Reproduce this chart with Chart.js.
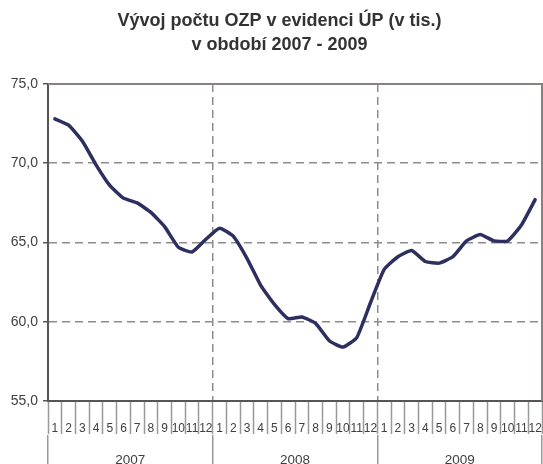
<!DOCTYPE html>
<html>
<head>
<meta charset="utf-8">
<script src="https://cdn.jsdelivr.net/npm/chart.js@4.4.0/dist/chart.umd.min.js"></script>
<style>
html,body{margin:0;padding:0;background:#fff;}
#wrap{width:543px;height:464px;position:relative;}
</style>
</head>
<body>
<div id="wrap"><canvas id="c" width="543" height="464"></canvas></div>
<script>
const titleLines = ['Vývoj počtu OZP v evidenci ÚP (v tis.)', 'v období 2007 - 2009'];
const years = ['2007', '2008', '2009'];
const months = ['1','2','3','4','5','6','7','8','9','10','11','12'];
const values2007 = [72.8, 72.4, 71.4, 69.9, 68.6, 67.8, 67.5, 66.9, 66.0, 64.7, 64.4, 65.2];
const values2008 = [65.9, 65.4, 64.0, 62.3, 61.1, 60.2, 60.3, 59.9, 58.8, 58.4, 59.0, 61.2];
const values2009 = [63.3, 64.1, 64.5, 63.8, 63.7, 64.1, 65.1, 65.5, 65.1, 65.1, 66.1, 67.7];
const yMin = 55, yMax = 75, yStep = 5;

const monthLabels = [].concat(months, months, months);
const series = [].concat(values2007, values2008, values2009);

const frame = {
  id: 'frame',
  afterLayout(chart) {
    // shift the title block slightly right, as in the original
    if (chart.titleBlock) { chart.titleBlock.left = 17; }
  },
  afterDatasetsDraw(chart) {
    const a = chart.chartArea, ctx = chart.ctx;
    ctx.save();
    ctx.strokeStyle = '#8a8080';
    ctx.lineWidth = 2;
    ctx.beginPath();
    ctx.moveTo(a.left, a.top);
    ctx.lineTo(a.right, a.top);
    ctx.lineTo(a.right, a.bottom);
    ctx.stroke();
    ctx.restore();
  }
};

const FONT = 'Liberation Sans, Arial, sans-serif';

new Chart(document.getElementById('c'), {
  type: 'line',
  data: {
    labels: monthLabels,
    datasets: [{
      data: series,
      borderColor: '#2d2f60',
      borderWidth: 3.5,
      pointRadius: 0,
      tension: 0.15,
      borderJoinStyle: 'round',
      borderCapStyle: 'round',
      fill: false
    }]
  },
  options: {
    responsive: false,
    animation: false,
    layout: { padding: { left: 0, right: 1, top: 0, bottom: 0 } },
    plugins: {
      legend: { display: false },
      tooltip: { enabled: false },
      title: {
        display: true,
        text: titleLines,
        color: '#333333',
        font: { family: FONT, size: 18, weight: 'bold', lineHeight: 1.333 },
        padding: { top: 9, bottom: 27 }
      }
    },
    scales: {
      y: {
        min: yMin, max: yMax,
        ticks: {
          stepSize: yStep,
          color: '#404040',
          font: { family: FONT, size: 14 },
          padding: 5,
          callback: v => v.toFixed(1).replace('.', ',')
        },
        grid: {
          color: ctx => (ctx.tick && (ctx.tick.value === yMin || ctx.tick.value === yMax)) ? 'rgba(0,0,0,0)' : '#8c8c8c',
          lineWidth: 1.5,
          tickLength: 5,
          tickColor: '#5a5555',
          tickWidth: 1.5
        },
        border: { display: true, color: '#5a5555', width: 2, dash: [8, 5] },
        afterFit: s => { s.width = 48; }
      },
      x: {
        type: 'category',
        offset: true,
        position: 'bottom',
        ticks: {
          autoSkip: false, maxRotation: 0, minRotation: 0,
          color: '#404040',
          font: { family: FONT, size: 12 },
          padding: -13
        },
        grid: {
          offset: true,
          drawOnChartArea: false,
          tickLength: 33,
          tickColor: '#999999',
          tickWidth: 1.5
        },
        border: { display: true, color: '#5a5555', width: 2 },
        afterFit: s => { s.height = 34; }
      },
      x2: {
        type: 'category',
        labels: years,
        offset: true,
        position: 'bottom',
        ticks: {
          color: '#404040',
          font: { family: FONT, size: 13.5 },
          padding: -14,
          maxRotation: 0
        },
        grid: {
          offset: true,
          drawOnChartArea: true,
          color: ctx => (ctx.index === 0 || ctx.index === years.length) ? 'rgba(0,0,0,0)' : '#8c8c8c',
          lineWidth: 1.5,
          tickLength: 31,
          tickColor: '#999999',
          tickWidth: 1.5
        },
        border: { display: false, dash: [8, 5] },
        afterFit: s => { s.height = 29; }
      }
    }
  },
  plugins: [frame]
});
</script>
</body>
</html>
